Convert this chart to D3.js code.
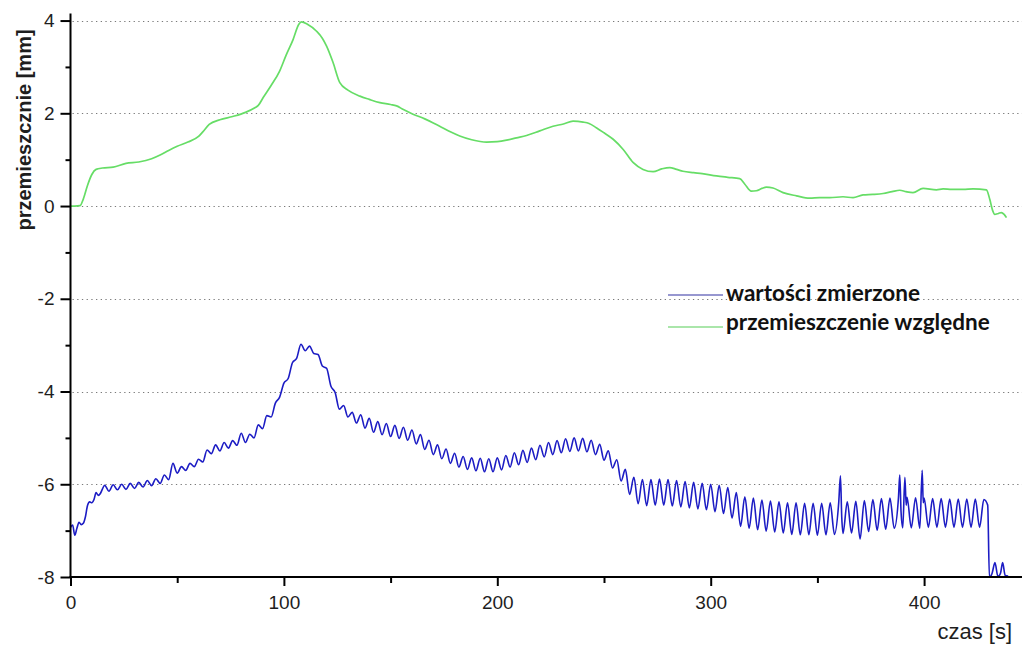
<!DOCTYPE html>
<html>
<head>
<meta charset="utf-8">
<script src="https://cdn.jsdelivr.net/npm/d3@7"></script>
<style>
  html, body { margin: 0; padding: 0; background: #fff; }
  svg { display: block; }
</style>
</head>
<body>
<svg id="chart" width="1022" height="648"></svg>
<script>
// Axis ticks
const xMajorTicks = [0, 100, 200, 300, 400];
const xMinorTicks = [50, 150, 250, 350];
const yMajorTicks = [-8, -6, -4, -2, 0, 2, 4];
const yMinorTicks = [-7, -5, -3, -1, 1, 3];
const gridValues = [-6, -4, -2, 0, 2, 4];

// Series labels
const seriesNames = ["wartości zmierzone", "przemieszczenie względne"];

// Measured displacement [time s, value mm]
const measured = [
  [0,-6.93],[1,-6.88],[2,-7.10],[3,-6.95],[4,-6.82],[5,-6.87],[6,-6.84],[7,-6.70],[8,-6.45],[9,-6.38],
  [10,-6.40],[11,-6.33],[12,-6.18],[13,-6.24],[14,-6.20],[15,-6.10],[16,-6.02],
  [18,-6.15],[20,-6.01],[22,-6.12],[24,-6.00],[26,-6.11],[28,-5.98],[30,-6.09],[32,-5.96],[34,-6.06],
  [36,-5.92],[38,-6.03],[40,-5.88],[42,-5.98],[44,-5.80],[46,-5.90],[48,-5.55],[50,-5.76],[52,-5.62],
  [54,-5.70],[56,-5.55],[58,-5.62],[60,-5.46],[62,-5.52],[64,-5.26],[66,-5.34],[68,-5.15],[70,-5.28],
  [72,-5.10],[74,-5.22],[76,-5.06],[78,-5.16],[80,-4.90],[82,-5.10],[84,-4.92],[86,-5.00],[88,-4.72],
  [90,-4.80],[92,-4.52],[94,-4.55],[96,-4.25],[98,-4.12],[100,-3.82],[102,-3.72],[104,-3.38],[106,-3.28],
  [108,-2.98],[110,-3.12],[112,-3.02],[114,-3.18],[116,-3.20],[118,-3.45],[120,-3.50],[122,-3.88],
  [124,-4.02],[126,-4.38],[128,-4.30],[130,-4.55],[132,-4.45],[134,-4.68],
  [136,-4.50],[138,-4.79],[140,-4.58],[142,-4.88],[144,-4.65],[146,-4.93],[148,-4.69],[150,-4.97],
  [152,-4.73],[154,-5.01],[156,-4.77],[158,-5.05],[160,-4.83],[162,-5.13],[164,-4.93],[166,-5.25],
  [168,-5.05],[170,-5.36],[172,-5.15],[174,-5.45],[176,-5.24],[178,-5.55],[180,-5.33],[182,-5.63],
  [184,-5.40],[186,-5.68],[188,-5.43],[190,-5.71],[192,-5.44],[194,-5.73],[196,-5.45],[198,-5.73],
  [200,-5.43],[202,-5.69],[204,-5.38],[206,-5.63],[208,-5.32],[210,-5.58],[212,-5.27],[214,-5.53],
  [216,-5.22],[218,-5.47],[220,-5.16],[222,-5.41],[224,-5.10],[226,-5.36],[228,-5.06],[230,-5.32],
  [232,-5.02],[234,-5.29],[236,-5.00],[238,-5.28],[240,-5.01],[242,-5.30],[244,-5.05],[246,-5.36],
  [248,-5.14],[250,-5.48],[252,-5.28],[254,-5.65],[256,-5.47],[258,-5.93],[260,-5.68],[262,-6.22],
  [264,-5.85],[266,-6.42],[268,-5.90],[270,-6.46],[272,-5.90],[274,-6.45],[276,-5.89],[278,-6.45],
  [280,-5.90],[282,-6.47],[284,-5.92],[286,-6.49],[288,-5.94],[290,-6.51],[292,-5.96],[294,-6.53],
  [296,-5.98],[298,-6.55],[300,-6.00],[302,-6.59],[304,-6.02],[306,-6.63],[308,-6.07],[310,-6.73],
  [312,-6.18],[314,-6.91],[316,-6.27],[318,-6.95],[320,-6.30],[322,-6.98],[324,-6.34],[326,-7.01],
  [328,-6.36],[330,-7.03],[332,-6.38],[334,-7.05],[336,-6.40],[338,-7.08],[340,-6.40],[342,-7.09],
  [344,-6.41],[346,-7.09],[348,-6.41],[350,-7.10],[352,-6.41],[354,-7.09],[356,-6.40],[358,-7.08],
  [360,-6.39],[360.8,-5.82],[361.4,-6.70],[362,-7.06],[364,-6.38],[366,-7.05],[368,-6.37],[370,-7.18],
  [372,-6.35],[374,-7.02],[376,-6.33],[378,-6.99],[380,-6.31],[382,-6.97],[384,-6.30],[386,-6.95],
  [388,-6.28],[388.6,-5.80],[389.2,-6.60],[390,-6.94],[391,-5.85],[391.6,-6.45],[392,-6.28],[394,-6.94],
  [396,-6.29],[398,-6.95],[399.1,-5.70],[399.6,-6.40],[400,-6.30],[402,-6.93],[404,-6.31],[406,-6.93],
  [408,-6.31],[410,-6.93],[412,-6.32],[414,-6.93],[416,-6.32],[418,-6.93],[420,-6.32],[422,-6.93],
  [424,-6.32],[426,-6.93],[428,-6.33],[429.8,-6.45],[430.6,-8.00],[431.8,-7.93],[433.2,-7.69],
  [434.6,-7.99],[435.8,-7.92],[436.8,-7.69],[438,-7.97],[439.4,-7.98]
];

// Relative displacement [time s, value mm]
const relative = [
  [0,0],[2,0],[4.5,0.01],[6,0.15],[8,0.45],[10,0.68],[12,0.79],[15,0.82],[20,0.84],[26,0.92],
  [32,0.95],[38,1.02],[42,1.10],[46,1.20],[50,1.29],[55,1.38],[60,1.50],[62,1.60],[65,1.76],[70,1.86],
  [76,1.93],[82,2.02],[86.4,2.12],[88,2.17],[90.3,2.34],[94,2.60],[98,2.91],[101,3.25],[104.3,3.59],
  [107,3.92],[108.2,3.97],[111,3.92],[115.3,3.77],[118,3.62],[120,3.45],[123,3.10],[126.2,2.66],
  [130,2.50],[135.6,2.37],[140,2.30],[145,2.23],[150,2.19],[152.8,2.16],[156,2.08],[160.5,1.98],
  [166,1.88],[173,1.72],[178,1.60],[182.4,1.51],[188,1.43],[195,1.38],[200,1.39],[204.3,1.42],
  [209,1.47],[213.7,1.52],[219.9,1.62],[226.1,1.72],[231,1.77],[235.5,1.83],[240.2,1.81],[243,1.78],
  [246.4,1.69],[250,1.58],[254.3,1.44],[259,1.22],[263.6,0.94],[268.3,0.79],[273,0.74],[277,0.80],
  [280.8,0.83],[284,0.79],[287,0.75],[292,0.72],[296,0.70],[302.7,0.65],[308,0.62],[313.6,0.59],
  [316,0.47],[319,0.32],[321.4,0.33],[324,0.38],[326.1,0.41],[329.2,0.39],[333.9,0.29],[340.2,0.22],
  [346.4,0.17],[351,0.18],[355.8,0.18],[362,0.20],[366.7,0.18],[371.4,0.24],[376,0.25],[380.8,0.27],
  [385,0.31],[388.6,0.34],[391.5,0.31],[394.8,0.29],[399.5,0.38],[405.8,0.35],[408.9,0.37],[413,0.36],
  [418.3,0.36],[423,0.37],[429.2,0.35],[430.8,0.14],[432,-0.08],[433.1,-0.18],[434.8,-0.16],
  [436.2,-0.14],[437.5,-0.18],[438.6,-0.25]
];

const svg = d3.select("#chart");
const W = 1022;
const plot = { left: 70.5, right: 1022, top: 13.6, bottom: 577 };

const x = d3.scaleLinear().domain([0, 446]).range([plot.left, plot.left + 446 * 2.134]);
const y = d3.scaleLinear().domain([-8, 4.15]).range([plot.bottom, plot.top]);

const textColor = "#1e1e1e";
const tickFont = "'Liberation Sans', Arial, sans-serif";

// Dotted horizontal grid
svg.append("g")
  .selectAll("line")
  .data(gridValues)
  .join("line")
  .attr("x1", plot.left + 2)
  .attr("x2", W)
  .attr("y1", d => Math.round(y(d)) + 0.5)
  .attr("y2", d => Math.round(y(d)) + 0.5)
  .attr("stroke", "#7a7a7a")
  .attr("stroke-width", 1)
  .attr("stroke-dasharray", "1.3,3.4");

// Series lines
const line = d3.line()
  .x(d => x(d[0]))
  .y(d => y(d[1]))
  .curve(d3.curveMonotoneX);

svg.append("path")
  .datum(relative)
  .attr("fill", "none")
  .attr("stroke", "#66dd66")
  .attr("stroke-width", 1.7)
  .attr("stroke-linejoin", "round")
  .attr("d", line);

svg.append("path")
  .datum(measured)
  .attr("fill", "none")
  .attr("stroke", "#1c1cc4")
  .attr("stroke-width", 1.6)
  .attr("stroke-linejoin", "round")
  .attr("d", line);

// Plain hyphen-minus labels
const plainFormat = d => String(d);

// X axis: major ticks with labels, minor ticks without
const xAxis = svg.append("g")
  .attr("transform", `translate(0,${plot.bottom})`)
  .call(d3.axisBottom(x).tickValues(xMajorTicks).tickFormat(plainFormat)
    .tickSize(9).tickSizeOuter(0).tickPadding(10));
xAxis.select(".domain").attr("d", `M${plot.left - 1},0H${W}`).attr("stroke", "#000").attr("stroke-width", 2);

svg.append("g")
  .attr("transform", `translate(0,${plot.bottom})`)
  .call(d3.axisBottom(x).tickValues(xMinorTicks).tickSize(6).tickFormat(""))
  .call(g => g.select(".domain").remove());

// Y axis
const yAxis = svg.append("g")
  .attr("transform", `translate(${plot.left},0)`)
  .call(d3.axisLeft(y).tickValues(yMajorTicks).tickFormat(plainFormat)
    .tickSize(10).tickSizeOuter(0).tickPadding(6));
yAxis.select(".domain").attr("d", `M0,${plot.top}V${plot.bottom + 1}`).attr("stroke", "#000").attr("stroke-width", 2);

svg.append("g")
  .attr("transform", `translate(${plot.left},0)`)
  .call(d3.axisLeft(y).tickValues(yMinorTicks).tickSize(5).tickFormat(""))
  .call(g => g.select(".domain").remove());

svg.selectAll(".tick line").attr("stroke", "#000").attr("stroke-width", 2);
svg.selectAll(".tick text")
  .attr("fill", textColor)
  .attr("font-family", null)
  .style("font-family", tickFont)
  .style("font-size", "19px");

// Axis titles
svg.append("text")
  .attr("transform", `translate(31,130) rotate(-90)`)
  .attr("text-anchor", "middle")
  .attr("fill", textColor)
  .style("font-family", tickFont)
  .style("font-size", "20px")
  .style("font-weight", "bold")
  .text("przemieszcznie [mm]");

svg.append("text")
  .attr("x", 1012)
  .attr("y", 639)
  .attr("text-anchor", "end")
  .attr("fill", textColor)
  .style("font-family", tickFont)
  .style("font-size", "22px")
  .text("czas [s]");

// Legend
const legend = [
  { name: seriesNames[0], color: "#7474c0", lineY: 295, textY: 301 },
  { name: seriesNames[1], color: "#8ede8e", lineY: 327, textY: 330 }
];
const lg = svg.append("g");
lg.selectAll("line")
  .data(legend)
  .join("line")
  .attr("x1", 668).attr("x2", 723)
  .attr("y1", d => d.lineY).attr("y2", d => d.lineY)
  .attr("stroke", d => d.color)
  .attr("stroke-width", 1.6);
lg.selectAll("text")
  .data(legend)
  .join("text")
  .attr("x", 726)
  .attr("y", d => d.textY)
  .attr("fill", "#111")
  .style("font-family", "Lato, sans-serif")
  .style("font-weight", "bold")
  .style("font-size", "22.5px")
  .text(d => d.name);
</script>
</body>
</html>
